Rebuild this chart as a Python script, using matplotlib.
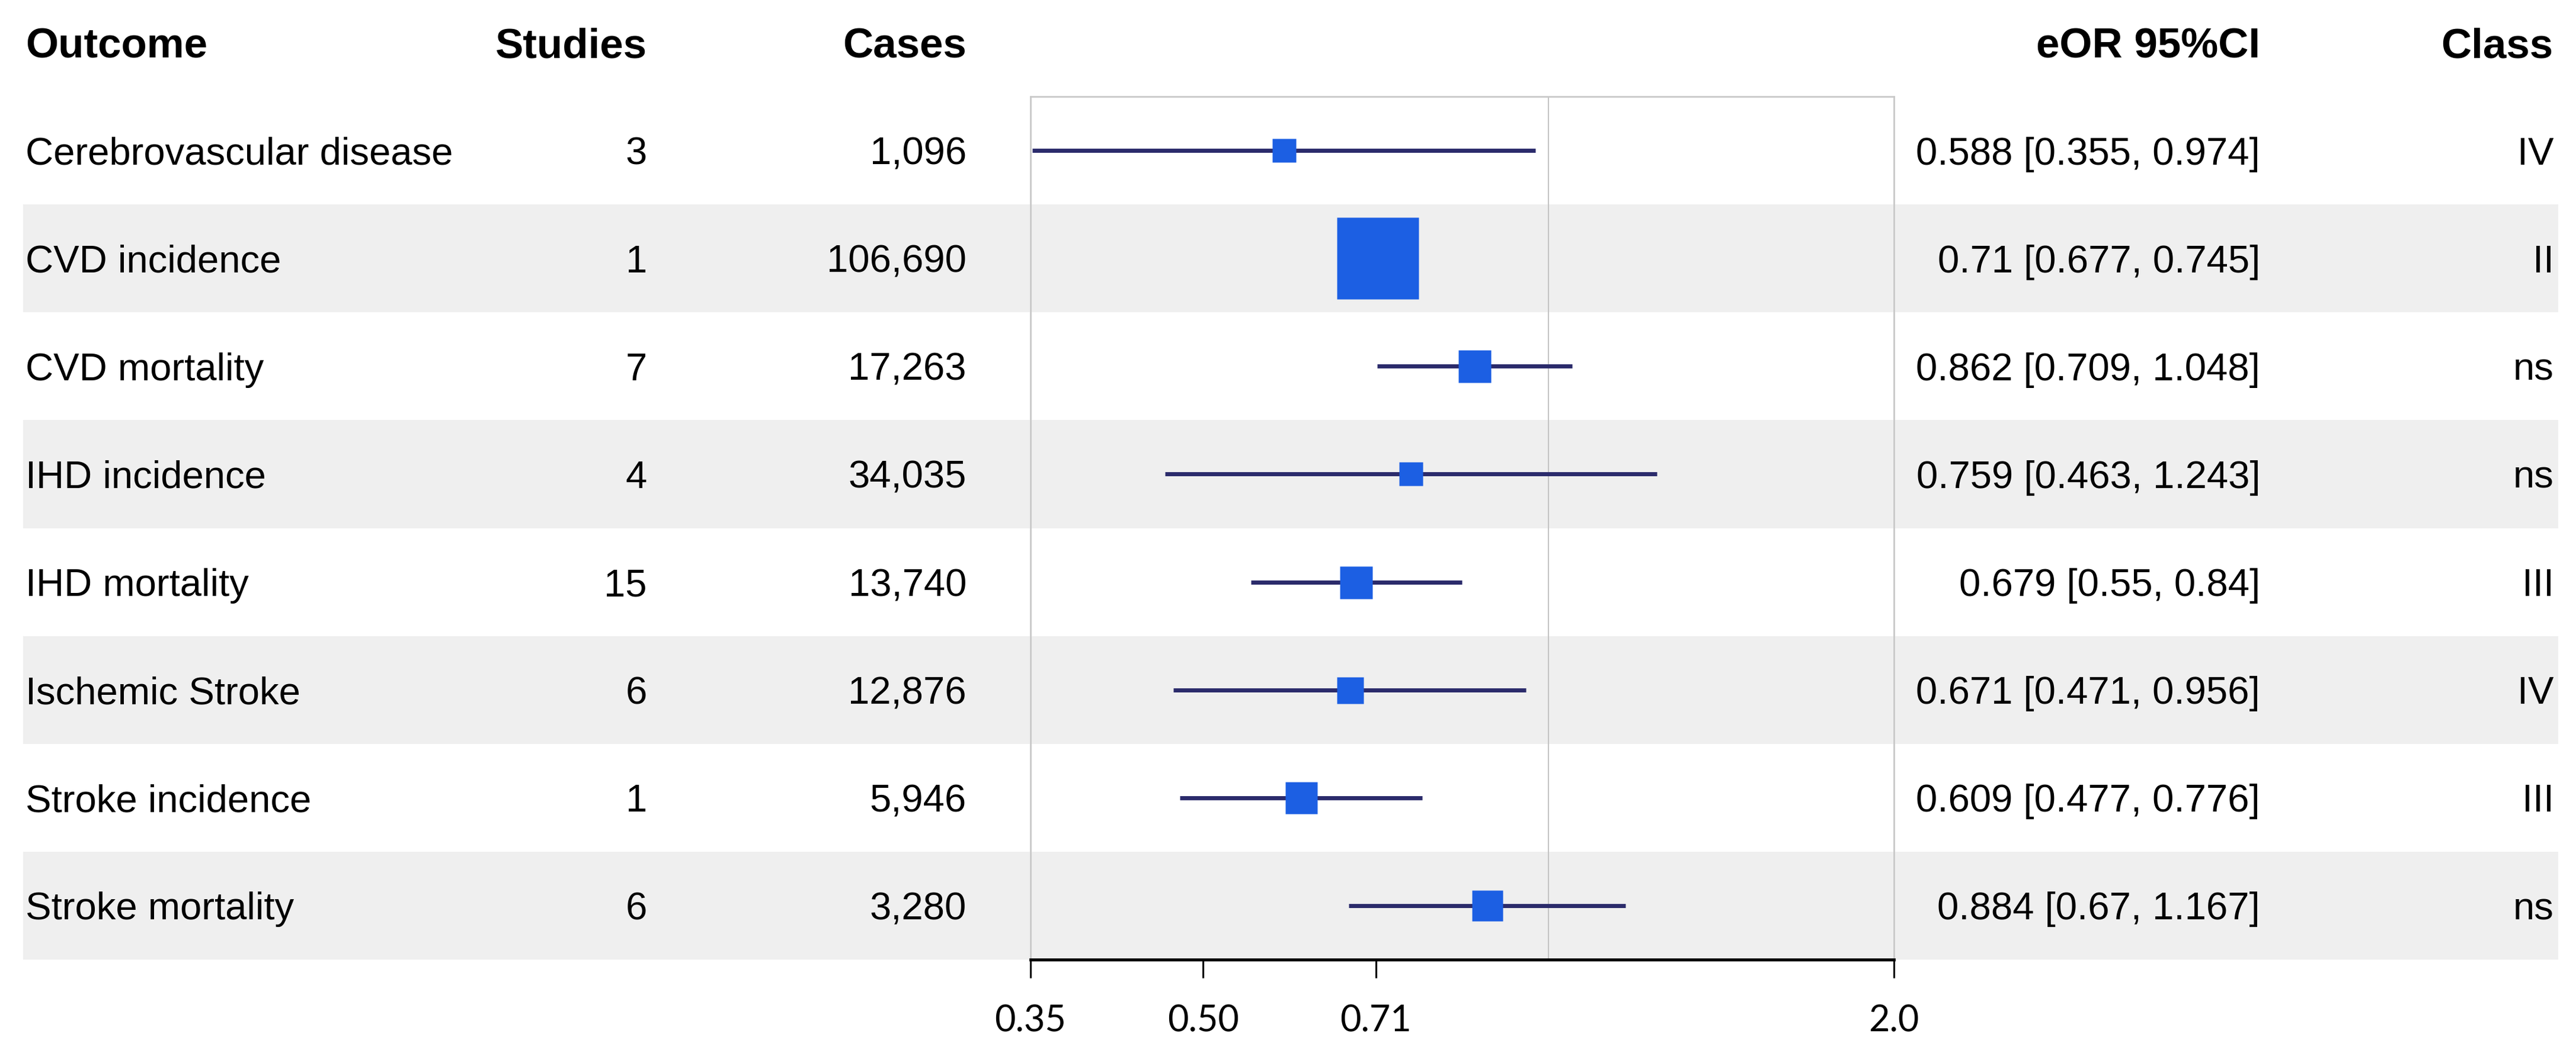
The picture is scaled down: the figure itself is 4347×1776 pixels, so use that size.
import matplotlib
matplotlib.use("Agg")
import matplotlib.pyplot as plt
import numpy as np

# data
outcomes = ["Cerebrovascular disease", "CVD incidence", "CVD mortality", "IHD incidence",
            "IHD mortality", "Ischemic Stroke", "Stroke incidence", "Stroke mortality"]
studies = [3, 1, 7, 4, 15, 6, 1, 6]
cases = [1096, 106690, 17263, 34035, 13740, 12876, 5946, 3280]
eor = [0.588, 0.71, 0.862, 0.759, 0.679, 0.671, 0.609, 0.884]
ci_low = [0.355, 0.677, 0.709, 0.463, 0.55, 0.471, 0.477, 0.67]
ci_high = [0.974, 0.745, 1.048, 1.243, 0.84, 0.956, 0.776, 1.167]
evidence_class = ["IV", "II", "ns", "ns", "III", "IV", "III", "ns"]
tick_vals = [2 ** -1.5, 0.5, 2 ** -0.5, 2.0]
tick_labels = ["0.35", "0.50", "0.71", "2.0"]

# square side in pixels, as seen in the picture
box_px = [40, 138, 55, 40, 55, 45, 54, 53]

W, H, DPI = 4347, 1776, 100
fig = plt.figure(figsize=(W / DPI, H / DPI), dpi=DPI)

top_px, bot_px = 163, 1620
ax_bottom = 1 - bot_px / H
ax_height = (bot_px - top_px) / H
n = len(outcomes)
rows = np.arange(1, n + 1)

# table layer: stripes + text columns
tab = fig.add_axes([0, ax_bottom, 1, ax_height], zorder=0)
tab.set_xlim(0, W)
tab.set_ylim(n + 0.5, 0.5)
tab.axis("off")

even = rows[1::2]
tab.barh(even, width=4317 - 39, left=39, height=1.0, color="#efefef", zorder=0)

body = dict(family="Liberation Sans", fontsize=47, va="center_baseline", color="black")
head = dict(family="Liberation Sans", fontsize=51, fontweight="bold", va="center_baseline", color="black")

tab.text(43, 0, "Outcome", ha="left", clip_on=False, **head)
tab.text(1092, 0, "Studies", ha="right", clip_on=False, **head)
tab.text(1631, 0, "Cases", ha="right", clip_on=False, **head)
tab.text(3814, 0, "eOR 95%CI", ha="right", clip_on=False, **head)
tab.text(4308, 0, "Class", ha="right", clip_on=False, **head)

for r, name, s, c, o, lo, hi, cl in zip(rows, outcomes, studies, cases, eor, ci_low, ci_high, evidence_class):
    tab.text(43, r, name, ha="left", **body)
    tab.text(1092, r, str(s), ha="right", **body)
    tab.text(1631, r, f"{c:,}", ha="right", **body)
    tab.text(3814, r, f"{o:g} [{lo:g}, {hi:g}]", ha="right", **body)
    tab.text(4310, r, cl, ha="right", **body)

# forest plot
ax = fig.add_axes([1739 / W, ax_bottom, (3196 - 1739) / W, ax_height], zorder=1)
ax.patch.set_alpha(0)
ax.set_xscale("log", base=2)
ax.set_xlim(2 ** -1.5, 2.0)
ax.set_ylim(n + 0.5, 0.5)

ax.axvline(1.0, color="#c4c4c4", lw=1.5, zorder=1)
ax.hlines(rows, ci_low, ci_high, color="#2b2b6b", lw=5, zorder=2)
for r, o, px in zip(rows, eor, box_px):
    ax.plot(o, r, marker="s", ms=px * 72 / DPI, color="#1c5fe3", mec="none", zorder=3)

for side in ["left", "right", "top"]:
    ax.spines[side].set_color("#c8c8c8")
    ax.spines[side].set_linewidth(2)
ax.spines["bottom"].set_color("black")
ax.spines["bottom"].set_linewidth(3.6)

ax.set_yticks([])
ax.set_xticks(tick_vals)
ax.set_xticklabels(tick_labels, family="Lato", fontsize=44)
ax.xaxis.set_minor_locator(matplotlib.ticker.NullLocator())
ax.tick_params(axis="x", direction="out", length=22, width=2.2, color="black", pad=32)

fig.savefig("out.png", dpi=DPI, facecolor="white")
